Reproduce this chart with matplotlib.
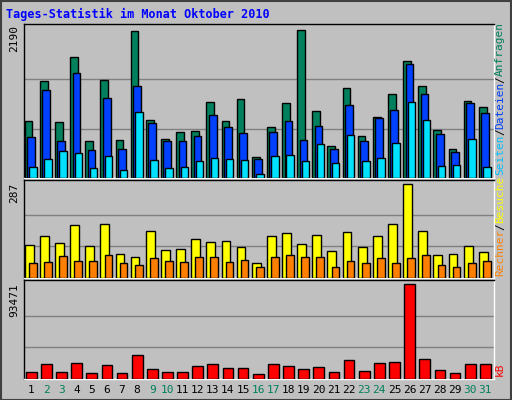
import numpy as np
import matplotlib
matplotlib.use("Agg")
import matplotlib.pyplot as plt
from matplotlib.patches import Rectangle

days = list(range(1, 32))
weekend = [2, 3, 9, 10, 16, 17, 23, 24, 30, 31]
hits = [842, 1432, 822, 1789, 540, 1447, 555, 2175, 852, 570, 674, 689, 1120, 837, 1164, 317,
        748, 1105, 2190, 986, 466, 1328, 614, 897, 1239, 1729, 1358, 704, 426, 1135, 1045]
files = [600, 1298, 540, 1551, 421, 1179, 436, 1358, 808, 540, 540, 614, 927, 748, 659, 287,
         674, 837, 555, 763, 436, 1075, 540, 882, 1001, 1685, 1239, 644, 391, 1105, 956]
pages = [168, 287, 406, 377, 154, 332, 124, 971, 273, 154, 168, 258, 302, 287, 273, 64,
         332, 347, 258, 496, 228, 629, 258, 302, 525, 1120, 852, 183, 198, 570, 168]
visits = [100, 128, 107, 160, 97, 163, 73, 63, 144, 85, 88, 119, 110, 113, 94, 45,
          128, 138, 104, 132, 82, 141, 94, 128, 163, 287, 144, 69, 73, 97, 79]
hosts = [45, 48, 66, 51, 51, 69, 45, 41, 60, 51, 48, 63, 63, 48, 54, 32,
         63, 69, 63, 63, 32, 51, 45, 60, 45, 60, 69, 41, 35, 45, 51]
kbytes = [6480, 14670, 6480, 15690, 5460, 13640, 5460, 23880, 9550, 6480, 6480, 12620, 14670, 10570,
          10570, 4430, 14670, 12620, 9550, 11600, 6480, 18760, 7500, 15690, 16710, 93471, 19790,
          8530, 5460, 14670, 14670]

W, H = 512, 400
fig = plt.figure(figsize=(W / 100, H / 100), dpi=100)
fig.patch.set_facecolor("#c0c0c0")
mono = "DejaVu Sans Mono"

# outer frame
fig.patches.append(Rectangle((0.5 / W, 0.5 / H), 1 - 1.5 / W, 1 - 1.5 / H, transform=fig.transFigure,
                             fill=False, edgecolor="#404040", lw=1.5))

def make_ax(x0, y0, x1, y1):
    ax = fig.add_axes([x0 / W, 1 - y1 / H, (x1 - x0) / W, (y1 - y0) / H])
    ax.set_facecolor("#c0c0c0")
    ax.set_xlim(-0.05, 31)
    ax.set_xticks([])
    ax.set_yticks([])
    for s in ax.spines.values():
        s.set_color("black")
        s.set_linewidth(1)
    ax.spines["right"].set_color("white")
    ax.spines["bottom"].set_color("white")
    return ax

x = np.arange(31)
kw = dict(align="edge", edgecolor="black", linewidth=1, zorder=3)

# top panel
ax1 = make_ax(24, 24, 494, 178)
ax1.set_ylim(0, 2190 * 1.04)
for g in [730, 1460]:
    ax1.axhline(g, color="#808080", lw=1, zorder=1)
ax1.bar(x + 0.0, hits, width=0.51, color="#00805c", **kw)
ax1.bar(x + 0.16, files, width=0.51, color="#0040ff", **kw)
ax1.bar(x + 0.29, pages, width=0.49, color="#00e0ff", **kw)

# middle panel
ax2 = make_ax(24, 180, 494, 278)
ax2.set_ylim(0, 287 * 1.04)
for g in [96, 191]:
    ax2.axhline(g, color="#808080", lw=1, zorder=1)
ax2.bar(x, visits, width=0.58, color="#ffff00", **kw)
ax2.bar(x + 0.27, hosts, width=0.51, color="#ff8000", **kw)

# bottom panel
ax3 = make_ax(24, 280, 494, 379)
ax3.set_ylim(0, 93471 * 1.04)
for g in [31157, 62314]:
    ax3.axhline(g, color="#808080", lw=1, zorder=1)
ax3.bar(x + 0.07, kbytes, width=0.71, color="#ff0000", **kw)

# day labels
for i, d in enumerate(days):
    col = "#00805c" if d in weekend else "black"
    ax3.text(i + 0.42, -0.06, str(d), transform=ax3.get_xaxis_transform(),
             ha="center", va="top", fontsize=8, color=col, family=mono)

# max labels
fig.text(14 / W, 1 - 38 / H, "2190", rotation=90, ha="center", va="center", fontsize=8, family=mono)
fig.text(14 / W, 1 - 193 / H, "287", rotation=90, ha="center", va="center", fontsize=8, family=mono)
fig.text(14 / W, 1 - 300 / H, "93471", rotation=90, ha="center", va="center", fontsize=8, family=mono)

fig.text(6 / W, 1 - 14 / H, "Tages-Statistik im Monat Oktober 2010", ha="left", va="center",
         fontsize=8.5, fontweight="bold", color="#0000ff", family=mono)

# right legends (stacked rotated words, bottom to top)
def legend(parts, ybottom):
    y = ybottom
    for txt, col in parts:
        fig.text(500 / W, 1 - y / H, txt, rotation=90, ha="center", va="bottom",
                 fontsize=8, color=col, family=mono)
        y -= len(txt) * 6.6

legend([("Seiten", "#00c0ff"), ("/", "black"), ("Dateien", "#0040ff"), ("/", "black"),
        ("Anfragen", "#00805c")], 175)
legend([("Rechner", "#ff8000"), ("/", "black"), ("Besuche", "#ffff00")], 276)
legend([("kB", "#ff0000")], 376)

fig.savefig("out.png", dpi=100, facecolor=fig.get_facecolor())
